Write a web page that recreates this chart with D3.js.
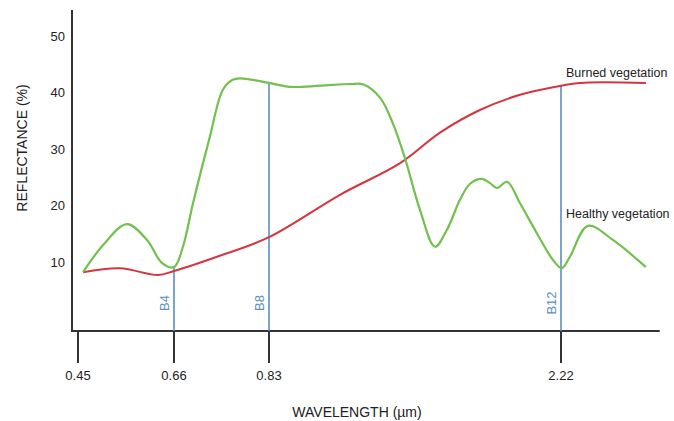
<!DOCTYPE html>
<html>
<head>
<meta charset="utf-8">
<script src="https://cdn.jsdelivr.net/npm/d3@7"></script>
<style>
  body { margin: 0; background: #fff; }
  text { font-family: "Liberation Sans", Arial, sans-serif; }
</style>
</head>
<body>
<div id="chart"></div>
<script>
// wavelength (µm) and reflectance (%)
const healthyWl = [0.461, 0.505, 0.557, 0.601, 0.634, 0.66, 0.676, 0.694, 0.724, 0.747, 0.764, 0.778,
                   0.83, 0.93, 1.073, 1.216, 1.28, 1.36, 1.42, 1.477, 1.549, 1.62, 1.677, 1.739, 1.786,
                   1.843, 1.881, 1.915, 1.963, 2.025, 2.105, 2.181, 2.224, 2.262, 2.348, 2.467, 2.624];
const healthyRef = [8.2, 13.0, 16.7, 13.9, 9.8, 9.1, 12.7, 20.4, 32.1, 40.4, 42.2, 42.5,
                    41.7, 41.0, 41.2, 41.5, 41.4, 39.0, 34.5, 28.4, 19.2, 12.7, 15.7, 21.0, 23.8,
                    24.7, 24.0, 23.1, 24.2, 20.4, 15.1, 10.4, 8.9, 10.9, 16.4, 13.9, 9.1];

const burnedWl  = [0.461, 0.542, 0.625, 0.66, 0.742, 0.83, 1.168, 1.454, 1.644, 1.834, 2.025, 2.22, 2.31, 2.624];
const burnedRef = [8.2, 8.9, 7.7, 8.4, 11.1, 14.4, 21.9, 27.5, 32.9, 36.9, 39.6, 41.2, 41.7, 41.7];

const bands = ["B4", "B8", "B12"];
const bandWl = [0.66, 0.83, 2.22];
const bandTop = [9.1, 41.7, 41.2];

const xTicks = [0.45, 0.66, 0.83, 2.22];
const yTicks = [10, 20, 30, 40, 50];

const width = 674, height = 421;

const svg = d3.select("#chart").append("svg")
    .attr("width", width)
    .attr("height", height);

// schematic axis: uneven spacing between the labelled wavelengths
const x = d3.scaleLinear()
    .domain([0.45, 0.66, 0.83, 2.22])
    .range([78, 174, 269, 561]);
const y = d3.scaleLinear().domain([0, 50]).range([318.5, 36]);

const axisY = 331;
const ink = "#333";

// axes lines
svg.append("line")
   .attr("x1", 72).attr("x2", 72).attr("y1", 10).attr("y2", axisY + 1)
   .attr("stroke", ink).attr("stroke-width", 2);
svg.append("line")
   .attr("x1", 71).attr("x2", x(2.69)).attr("y1", axisY).attr("y2", axisY)
   .attr("stroke", ink).attr("stroke-width", 2);

// y tick labels (no tick marks)
svg.selectAll(".ytick")
   .data(yTicks)
   .join("text")
   .attr("class", "ytick")
   .attr("x", 65)
   .attr("y", d => y(d))
   .attr("dy", "0.35em")
   .attr("text-anchor", "end")
   .attr("font-size", 13)
   .attr("fill", "#222")
   .text(d => d);

// x ticks
const xt = svg.selectAll(".xtick")
   .data(xTicks)
   .join("g")
   .attr("class", "xtick")
   .attr("transform", d => `translate(${x(d)},0)`);
xt.append("line")
  .attr("y1", axisY).attr("y2", 363)
  .attr("stroke", ink).attr("stroke-width", 2);
xt.append("text")
  .attr("y", 375)
  .attr("dy", "0.35em")
  .attr("text-anchor", "middle")
  .attr("font-size", 13)
  .attr("fill", "#222")
  .text(d => d.toFixed(2));

// axis titles
svg.append("text")
   .attr("transform", "translate(22,148) rotate(-90)")
   .attr("text-anchor", "middle")
   .attr("dy", "0.35em")
   .attr("font-size", 14)
   .attr("fill", "#222")
   .text("REFLECTANCE (%)");
svg.append("text")
   .attr("x", 357).attr("y", 412)
   .attr("dy", "0.35em")
   .attr("text-anchor", "middle")
   .attr("font-size", 14)
   .attr("fill", "#222")
   .text("WAVELENGTH (µm)");

// band markers
const blue = "#5b8fc2";
const bg = svg.selectAll(".band")
   .data(bands)
   .join("g")
   .attr("class", "band")
   .attr("transform", (d, i) => `translate(${x(bandWl[i])},0)`);
bg.append("line")
  .attr("y1", (d, i) => y(bandTop[i]))
  .attr("y2", axisY)
  .attr("stroke", blue).attr("stroke-width", 1.6);
bg.append("text")
  .attr("transform", "translate(-10,303) rotate(-90)")
  .attr("text-anchor", "middle")
  .attr("dy", "0.35em")
  .attr("font-size", 13)
  .attr("fill", blue)
  .text(d => d);

// curves
const line = d3.line()
    .x(d => x(d[0]))
    .y(d => y(d[1]))
    .curve(d3.curveCatmullRom.alpha(0.5));

svg.append("path")
   .datum(burnedWl.map((w, i) => [w, burnedRef[i]]))
   .attr("d", line)
   .attr("fill", "none")
   .attr("stroke", "#d6353f")
   .attr("stroke-width", 2);

svg.append("path")
   .datum(healthyWl.map((w, i) => [w, healthyRef[i]]))
   .attr("d", line)
   .attr("fill", "none")
   .attr("stroke", "#72c04e")
   .attr("stroke-width", 2.2);

// series labels
svg.append("text")
   .attr("x", 566).attr("y", 73)
   .attr("dy", "0.35em")
   .attr("font-size", 12.5)
   .attr("fill", "#222")
   .text("Burned vegetation");
svg.append("text")
   .attr("x", 566).attr("y", 214)
   .attr("dy", "0.35em")
   .attr("font-size", 12.5)
   .attr("fill", "#222")
   .text("Healthy vegetation");
</script>
</body>
</html>
